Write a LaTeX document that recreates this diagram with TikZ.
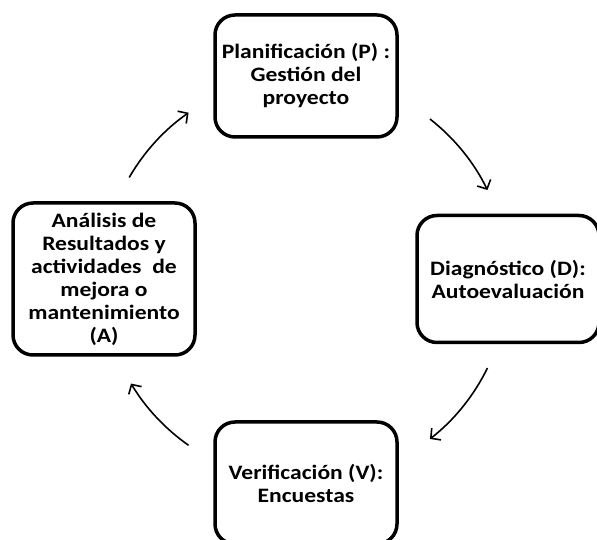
\documentclass[tikz,border=0pt]{standalone}
\usepackage{fontspec}
\setmainfont{Carlito}[FakeStretch=1.15]
\usetikzlibrary{arrows.meta}

\tikzset{
  etapa/.style={draw,line width=3.5pt,rounded corners=20pt,align=center,
    minimum width=182pt,font=\bfseries\fontsize{20.5}{23}\selectfont},
  flecha/.style={line width=1.6pt,-{Straight Barb[length=7pt,width=15pt]}}
}

\begin{document}
\begin{tikzpicture}[x=1pt,y=1pt]
  % marco
  \useasboundingbox (0,0) rectangle (597,540);

  % las cuatro etapas del ciclo
  \node[etapa,minimum height=122pt] (plan) at (306,464) {Planificación (P) :\\Gestión del\\proyecto};
  \node[etapa,minimum height=127pt] (diag) at (508,261) {Diagnóstico (D):\\Autoevaluación};
  \node[etapa,minimum height=122pt] (verif) at (306,57) {Verificación (V):\\Encuestas};
  \node[etapa,minimum height=152pt] (anal) at (104,261) {Análisis de\\Resultados y\\actividades~~de\\mejora o\\mantenimiento\\(A)};

  % centro del ciclo
  \coordinate (c) at (305,261);

  % flechas (arcos en sentido horario)
  \draw[flecha] ([shift={(150:203)}]c) arc (150:125:203);
  \draw[flecha] ([shift={(52:203)}]c) arc (52:26:203);
  \draw[flecha] ([shift={(-26:203)}]c) arc (-26:-52:203);
  \draw[flecha] ([shift={(235:203)}]c) arc (235:211:203);
\end{tikzpicture}
\end{document}
